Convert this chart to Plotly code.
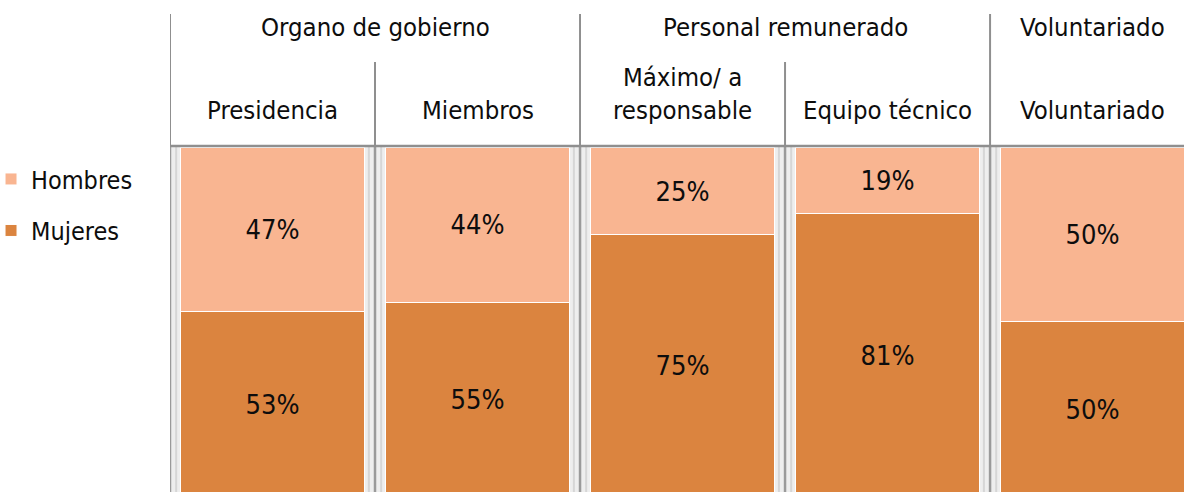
import plotly.graph_objects as go

categories = ["Presidencia", "Miembros", "Máximo/ a<br>responsable", "Equipo técnico", "Voluntariado"]
groups = ["Organo de gobierno", "Organo de gobierno", "Personal remunerado", "Personal remunerado", "Voluntariado"]
mujeres = [53, 55, 75, 81, 50]
hombres = [47, 44, 25, 19, 50]

FONT = "DejaVu Sans Condensed, DejaVu Sans, sans-serif"
FS = 25
FS_HEAD = 25.5
FS_LBL = 27
C_H = "#F9B591"
C_M = "#DB843F"
LINE = "#8f8f8f"
TXT = "#0d0d0d"

fig = go.Figure()
fig.add_trace(go.Bar(
    x=categories, y=mujeres, name="Mujeres", legendgroup="m", legendrank=2,
    marker=dict(color=C_M, line=dict(color="white", width=1)),
    text=[f"{v}%" for v in mujeres], textposition="inside",
    insidetextanchor="middle", textangle=0, constraintext="none",
    textfont=dict(family=FONT, size=FS_LBL, color=TXT),
    hoverinfo="skip",
))
fig.add_trace(go.Bar(
    x=categories, y=hombres, name="Hombres", legendgroup="h", legendrank=1,
    marker=dict(color=C_H, line=dict(color="white", width=1)),
    text=[f"{v}%" for v in hombres], textposition="inside",
    insidetextanchor="middle", textangle=0, constraintext="none",
    textfont=dict(family=FONT, size=FS_LBL, color=TXT),
    hoverinfo="skip",
))

n = len(categories)
shapes = []
# gap shading and separator lines between categories
for i in range(n + 1):
    b = i - 0.5
    shapes.append(dict(type="rect", xref="x", yref="paper", x0=b - 0.05, x1=b + 0.05,
                       y0=0, y1=1, fillcolor="#eeeeee", line=dict(width=0), layer="below"))
    for off in (-0.03, 0.03):
        shapes.append(dict(type="line", xref="x", yref="paper", x0=b + off, x1=b + off,
                           y0=0, y1=1, line=dict(color="#d6d6d6", width=2), layer="below"))
    shapes.append(dict(type="line", xref="x", yref="paper", x0=b, x1=b, y0=0, y1=1,
                       line=dict(color="#9a9a9a", width=2.5), layer="above"))

# header lines: group boundaries (tall) and sub-category boundaries (short)
for i in range(n + 1):
    b = i - 0.5
    is_group = i == 0 or i == n or groups[i] != groups[i - 1]
    top = 1.3815 if is_group else 1.2428
    shapes.append(dict(type="line", xref="x", yref="paper", x0=b, x1=b, y0=1.0, y1=top,
                       line=dict(color=LINE, width=2)))
shapes.append(dict(type="line", xref="paper", yref="paper", x0=0, x1=1, y0=1.0, y1=1.0,
                   line=dict(color=LINE, width=2.5)))

annotations = []
for i, c in enumerate(categories):
    annotations.append(dict(x=i, y=1.055, xref="x", yref="paper", text=c, showarrow=False,
                            yanchor="bottom", xanchor="center", align="center",
                            font=dict(family=FONT, size=FS_HEAD, color=TXT)))
# group labels
seen = []
for g in groups:
    if g not in seen:
        seen.append(g)
for g in seen:
    idx = [i for i, gg in enumerate(groups) if gg == g]
    annotations.append(dict(x=sum(idx) / len(idx), y=1.344, xref="x", yref="paper", text=g,
                            showarrow=False, yanchor="middle", xanchor="center",
                            font=dict(family=FONT, size=FS_HEAD, color=TXT)))

fig.update_layout(
    width=1184, height=492,
    margin=dict(l=170, r=0, t=146, b=0, pad=0, autoexpand=False),
    barmode="stack", barnorm="percent", bargap=0.1,
    paper_bgcolor="white", plot_bgcolor="white",
    font=dict(family=FONT, size=FS, color=TXT),
    showlegend=True,
    legend=dict(x=-0.1765, xanchor="left", y=0.9705, yanchor="top",
                traceorder="grouped", tracegroupgap=16,
                font=dict(family=FONT, size=FS, color=TXT),
                bgcolor="rgba(0,0,0,0)"),
    xaxis=dict(range=[-0.5, 4.446], showticklabels=False, showgrid=False, zeroline=False,
               showline=False, ticks=""),
    yaxis=dict(range=[1.3, 100.4], showticklabels=False, showgrid=False, zeroline=False,
               showline=False, ticks=""),
    shapes=shapes, annotations=annotations,
)

fig.write_html("out.html", config={"displayModeBar": False},
               post_script="document.body.style.margin='0';document.body.style.overflow='hidden';")
